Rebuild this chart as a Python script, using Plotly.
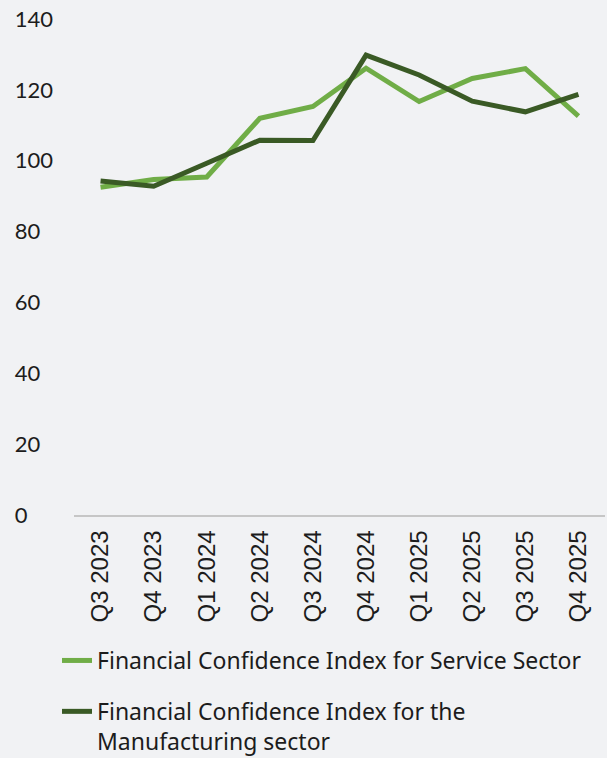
import plotly.graph_objects as go

quarters = ['Q3 2023', 'Q4 2023', 'Q1 2024', 'Q2 2024', 'Q3 2024',
            'Q4 2024', 'Q1 2025', 'Q2 2025', 'Q3 2025', 'Q4 2025']
service = [92.5, 94.7, 95.4, 112.0, 115.3, 126.1, 116.7, 123.2, 126.0, 112.6]
manufacturing = [94.3, 92.8, 99.3, 105.8, 105.7, 129.8, 124.2, 116.8, 113.8, 118.7]

y_ticks = [0, 20, 40, 60, 80, 100, 120, 140]

hex_service = '#70ad47'
hex_manuf = '#3a5a25'
hex_bg = '#f1f2f4'
hex_text = '#1c1c1c'

FIG_W, FIG_H = 607, 758
LEGEND_TOP_PX = 639

fig = go.Figure()

fig.add_trace(go.Scatter(
    x=quarters, y=service, mode='lines',
    name='Financial Confidence Index for Service Sector',
    line={'color': hex_service, 'width': 5},
    legendgroup='a'
))

fig.add_trace(go.Scatter(
    x=quarters, y=manufacturing, mode='lines',
    name='Financial Confidence Index for the<br>Manufacturing sector',
    line={'color': hex_manuf, 'width': 5},
    legendgroup='b'
))

# pad labels with figure spaces so they look left aligned
pad = max(len(str(v)) for v in y_ticks)
y_text = [str(v) + '\u2007' * (pad - len(str(v))) for v in y_ticks]

fig.update_xaxes(
    type='category', range=[-0.5, len(quarters) - 0.5],
    showline=True, linecolor='#c6c6c6', linewidth=1.5,
    showgrid=False, ticks='', tickangle=-90, ticklabelstandoff=4,
    tickfont={'family': 'Liberation Sans', 'size': 24, 'color': hex_text},
    automargin=False,
)
fig.update_yaxes(
    range=[0, 140], tickvals=y_ticks, ticktext=y_text,
    showgrid=False, zeroline=False, showline=False, ticks='',
    ticklabelstandoff=20, automargin=False,
    tickfont={'family': 'Lato', 'size': 22, 'color': hex_text},
)

# legend placed in container y so it does not push the bottom margin
fig.update_layout(
    width=FIG_W, height=FIG_H,
    paper_bgcolor=hex_bg, plot_bgcolor=hex_bg,
    margin={'l': 74, 'r': 2, 't': 19, 'b': 243},
    font={'family': 'Lato', 'color': hex_text},
    showlegend=True,
    legend=dict(
        orientation='v', xref='paper', yref='container',
        x=-0.032, y=1 - LEGEND_TOP_PX / FIG_H, xanchor='left', yanchor='top',
        font={'family': 'Noto Sans', 'size': 23, 'color': hex_text},
        valign='top', tracegroupgap=18, bgcolor='rgba(0,0,0,0)',
    ),
)

# drop the default page margin so the figure sits at the corner
fig.write_html('out.html', config={'displayModeBar': False},
               post_script="document.body.style.margin='0';")
